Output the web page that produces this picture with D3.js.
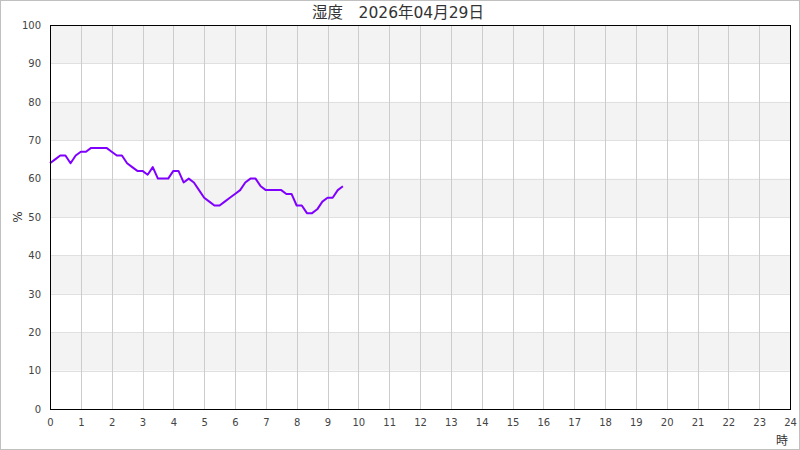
<!DOCTYPE html>
<html><head><meta charset="utf-8">
<script src="https://cdn.jsdelivr.net/npm/d3@7"></script>
<style>
html,body{margin:0;padding:0;background:#fff;}
svg{display:block;}
text{font-family:"DejaVu Sans","Noto Sans CJK JP",sans-serif;}
</style></head>
<body>
<script>
const titleText = "湿度　2026年04月29日";
const yLabel = "%";
const xLabel = "時";
const xTicks = d3.range(0, 25);
const yTicks = d3.range(0, 101, 10);
// humidity every 10 minutes from 0:00
const humidity = [64,65,66,66,64,66,67,67,68,68,68,68,67,66,66,64,63,62,62,61,63,60,60,60,62,62,59,60,59,57,55,54,53,53,54,55,56,57,59,60,60,58,57,57,57,57,56,56,53,53,51,51,52,54,55,55,57,58];
const times = humidity.map((d, i) => i / 6);

const W = 800, H = 450;
const m = {left: 50, right: 10, top: 25, bottom: 41};
const svg = d3.select("body").append("svg").attr("width", W).attr("height", H);

svg.append("rect").attr("x", 0.5).attr("y", 0.5).attr("width", W - 1).attr("height", H - 1)
  .attr("fill", "#fff").attr("stroke", "#c0c0c0").attr("stroke-width", 1);

const x = d3.scaleLinear().domain([0, 24]).range([m.left, W - m.right]);
const y = d3.scaleLinear().domain([0, 100]).range([H - m.bottom, m.top]);

const g = svg.append("g");
// bands
const bands = d3.range(10, 100, 20);
g.selectAll("rect.band").data(bands).enter().append("rect")
  .attr("x", x(0)).attr("width", x(24) - x(0))
  .attr("y", d => y(d + 10)).attr("height", d => y(d) - y(d + 10))
  .attr("fill", "#f3f3f3");
// horizontal grid
g.selectAll("line.hg").data(yTicks.slice(1, -1)).enter().append("line")
  .attr("x1", x(0)).attr("x2", x(24))
  .attr("y1", d => Math.round(y(d)) + 0.5).attr("y2", d => Math.round(y(d)) + 0.5)
  .attr("stroke", "#e0e0e0");
// vertical grid
g.selectAll("line.vg").data(xTicks.slice(1, -1)).enter().append("line")
  .attr("y1", y(0)).attr("y2", y(100))
  .attr("x1", d => Math.round(x(d)) + 0.5).attr("x2", d => Math.round(x(d)) + 0.5)
  .attr("stroke", "#cccccc");

// line
const line = d3.line().x((d, i) => x(times[i])).y(d => y(d));
svg.append("path").datum(humidity).attr("d", line)
  .attr("fill", "none").attr("stroke", "#8000ff").attr("stroke-width", 2)
  .attr("stroke-linejoin", "round");

// frame
svg.append("rect").attr("x", Math.round(x(0)) + 0.5).attr("y", Math.round(y(100)) + 0.5)
  .attr("width", Math.round(x(24)) - Math.round(x(0))).attr("height", Math.round(y(0)) - Math.round(y(100)))
  .attr("fill", "none").attr("stroke", "#000").attr("stroke-width", 1);

// axes
const xAxis = d3.axisBottom(x).tickValues(xTicks).tickSize(0).tickPadding(10).tickFormat(d3.format("d"));
const xg = svg.append("g").attr("transform", `translate(0,${y(0)})`).call(xAxis);
xg.select(".domain").remove();
xg.selectAll("text").attr("fill", "#444").style("font-size", "10px");

const yAxis = d3.axisLeft(y).tickValues(yTicks).tickSize(0).tickPadding(9).tickFormat(d3.format("d"));
const yg = svg.append("g").attr("transform", `translate(${x(0)},0)`).call(yAxis);
yg.select(".domain").remove();
yg.selectAll("text").attr("fill", "#444").style("font-size", "10px");

// title
svg.append("text").attr("x", 398).attr("y", 18).attr("text-anchor", "middle")
  .attr("fill", "#333").style("font-size", "15.5px").text(titleText);
// y label
svg.append("text").attr("transform", `translate(22,${(y(0) + y(100)) / 2}) rotate(-90)`)
  .attr("text-anchor", "middle").attr("fill", "#333").style("font-size", "12px").text(yLabel);
// x label
svg.append("text").attr("x", 788).attr("y", 445).attr("text-anchor", "end")
  .attr("fill", "#333").style("font-size", "12px").text(xLabel);
</script>
</body></html>
